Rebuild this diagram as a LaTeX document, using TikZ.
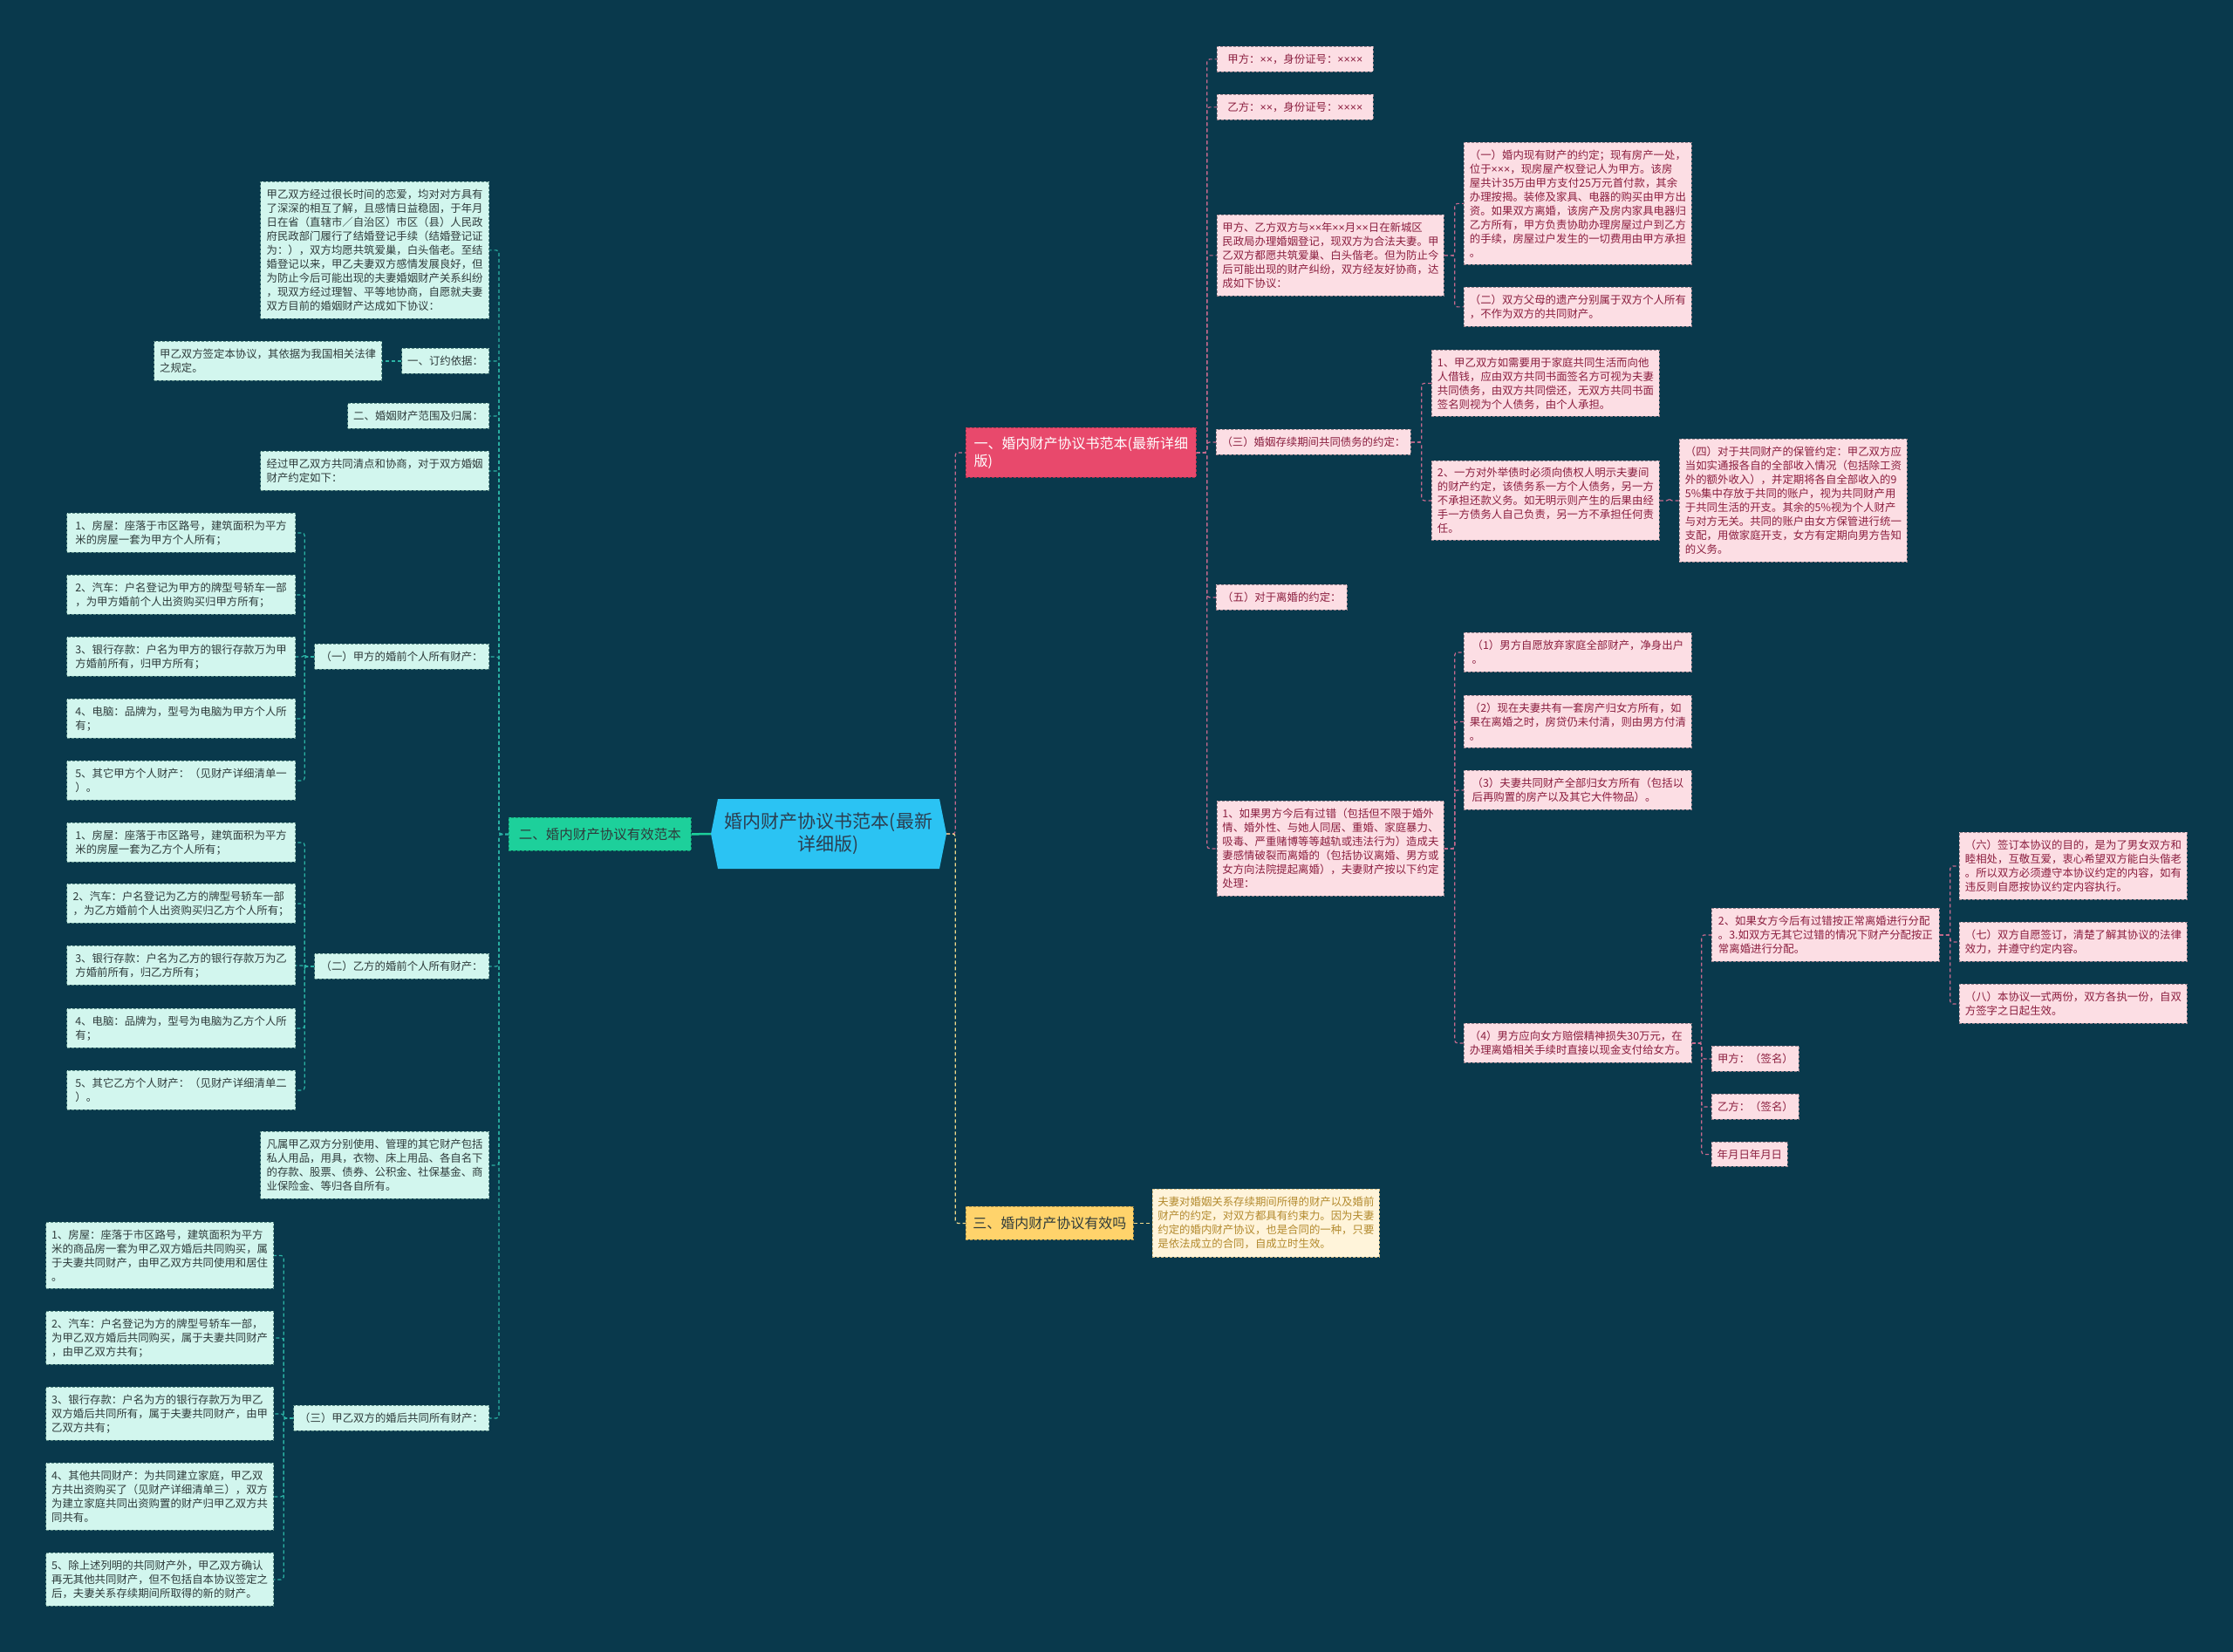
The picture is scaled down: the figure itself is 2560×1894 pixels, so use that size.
\documentclass[tikz,border=0pt]{standalone}
\usepackage{fontspec}
\setmainfont{Noto Sans CJK SC}
\newfontfamily\latinf{Liberation Sans}
\newcommand{\xx}{{\latinf ×}}
\usetikzlibrary{backgrounds}
\definecolor{bgc}{HTML}{09394C}
\definecolor{lfill}{HTML}{D2F6EE}
\definecolor{lbd}{HTML}{5E8E88}
\definecolor{ltxt}{HTML}{2E3B3B}
\definecolor{lcon}{HTML}{2BB3A5}
\definecolor{rfill}{HTML}{FCDEE4}
\definecolor{rbd}{HTML}{97808A}
\definecolor{rtxt}{HTML}{8B1E3F}
\definecolor{rcon}{HTML}{C86A8E}
\definecolor{cblue}{HTML}{2BC3F3}
\definecolor{ctxt}{HTML}{2C3E50}
\definecolor{b1fill}{HTML}{E8496C}
\definecolor{b2fill}{HTML}{1DD09B}
\definecolor{b3fill}{HTML}{FFD36B}
\definecolor{yfill}{HTML}{FFF4DA}
\definecolor{ytxt}{HTML}{B38A2E}
\definecolor{ycon}{HTML}{F2DA8A}
\newcommand{\fsS}{\fontsize{12.4}{16}\selectfont}
\newcommand{\fsB}{\fontsize{16}{20}\selectfont}
\newcommand{\fsR}{\fontsize{21}{26}\selectfont}
\tikzset{
  sz/.style 2 args={minimum width=#1pt, minimum height=#2pt},
  lbox/.style={draw=lbd, fill=lfill, text=ltxt, font=\fsS, align=left, inner xsep=6pt, inner ysep=4pt, line width=0.8pt, dash pattern=on 3pt off 2pt},
  rbox/.style={draw=rbd, fill=rfill, text=rtxt, font=\fsS, align=left, inner xsep=6pt, inner ysep=4pt, line width=0.8pt, dash pattern=on 3pt off 2pt},
  ybox/.style={draw=ytxt!60, fill=yfill, text=ytxt, font=\fsS, align=left, inner xsep=5pt, inner ysep=4pt, line width=0.8pt, dash pattern=on 3pt off 2pt},
  lconn/.style={draw=lcon, line width=1.2pt, dash pattern=on 4pt off 3pt, rounded corners=3pt},
  rconn/.style={draw=rcon, line width=1.2pt, dash pattern=on 4pt off 3pt, rounded corners=3pt},
  yconn/.style={draw=ycon, line width=1.2pt, dash pattern=on 4pt off 3pt, rounded corners=3pt},
}
\begin{document}
\begin{tikzpicture}[x=1pt,y=-1pt]
\useasboundingbox (0,0) rectangle (2560,1894);
\fill[bgc] (0,0) rectangle (2560,1894);

% root
\fill[cblue] (823,916) -- (1077,916) -- (1085,956) -- (1077,996) -- (823,996) -- (815,956) -- cycle;
\node[sz={270}{80}, inner sep=0pt, text=ctxt, font=\fsR, align=center] (root) at (950,956) {婚内财产协议书范本(最新\\详细版)};

% branches
\node[sz={264}{57}, anchor=north west, fill=b1fill, draw=b1fill!70!black, line width=0.8pt, dash pattern=on 3pt off 2pt, text=white, font=\fsB, align=left, inner sep=5pt] (B1) at (1107,490) {一、婚内财产协议书范本(最新详细\\版)};
\node[sz={209}{38}, anchor=north west, fill=b2fill, draw=b2fill!70!black, line width=0.8pt, dash pattern=on 3pt off 2pt, text=ltxt, font=\fontsize{15.5}{19}\selectfont, inner sep=4pt] (B2) at (583,937) {二、婚内财产协议有效范本};
\node[sz={192}{38}, anchor=north west, fill=b3fill, draw=b3fill!70!black, line width=0.8pt, dash pattern=on 3pt off 2pt, text=ltxt, font=\fsB, inner sep=4pt] (B3) at (1107,1383) {三、婚内财产协议有效吗};

\draw[draw=b2fill, line width=2.5pt] (root.west) -- (B2.east);
\draw[rconn] (root.east) -- ++(10,0) |- (B1.west);
\draw[yconn] (root.east) -- ++(10,0) |- (B3.west);

% branch 3 child
\node[ybox, sz={260}{78}, anchor=north west] (Y1) at (1321,1363) {夫妻对婚姻关系存续期间所得的财产以及婚前\\财产的约定，对双方都具有约束力。因为夫妻\\约定的婚内财产协议，也是合同的一种，只要\\是依法成立的合同，自成立时生效。};
\draw[yconn] (B3.east) -- (Y1.west);

% ---------- left side ----------
\node[lbox, sz={262}{157}, anchor=north east] (L1) at (561,208) {甲乙双方经过很长时间的恋爱，均对对方具有\\了深深的相互了解，且感情日益稳固，于年月\\日在省（直辖市／自治区）市区（县）人民政\\府民政部门履行了结婚登记手续（结婚登记证\\为：），双方均愿共筑爱巢，白头偕老。至结\\婚登记以来，甲乙夫妻双方感情发展良好，但\\为防止今后可能出现的夫妻婚姻财产关系纠纷\\，现双方经过理智、平等地协商，自愿就夫妻\\双方目前的婚姻财产达成如下协议：};
\node[lbox, sz={100}{29}, anchor=north east] (L2) at (561,399) {一、订约依据：};
\node[lbox, sz={261}{45}, anchor=north east] (L2c) at (438,391) {甲乙双方签定本协议，其依据为我国相关法律\\之规定。};
\node[lbox, sz={162}{29}, anchor=north east] (L3) at (561,462) {二、婚姻财产范围及归属：};
\node[lbox, sz={262}{45}, anchor=north east] (L4) at (561,517) {经过甲乙双方共同清点和协商，对于双方婚姻\\财产约定如下：};
\node[lbox, sz={200}{29}, anchor=north east] (G1) at (561,738) {（一）甲方的婚前个人所有财产：};
\node[lbox, sz={262}{45}, anchor=north east] (A1) at (339,588) {1、房屋：座落于市区路号，建筑面积为平方\\米的房屋一套为甲方个人所有；};
\node[lbox, sz={262}{45}, anchor=north east] (A2) at (339,659) {2、汽车：户名登记为甲方的牌型号轿车一部\\，为甲方婚前个人出资购买归甲方所有；};
\node[lbox, sz={262}{45}, anchor=north east] (A3) at (339,730) {3、银行存款：户名为甲方的银行存款万为甲\\方婚前所有，归甲方所有；};
\node[lbox, sz={262}{45}, anchor=north east] (A4) at (339,801) {4、电脑：品牌为，型号为电脑为甲方个人所\\有；};
\node[lbox, sz={262}{45}, anchor=north east] (A5) at (339,872) {5、其它甲方个人财产：（见财产详细清单一\\）。};
\node[lbox, sz={200}{29}, anchor=north east] (G2) at (561,1093) {（二）乙方的婚前个人所有财产：};
\node[lbox, sz={262}{45}, anchor=north east] (Bb1) at (339,943) {1、房屋：座落于市区路号，建筑面积为平方\\米的房屋一套为乙方个人所有；};
\node[lbox, sz={262}{45}, anchor=north east] (Bb2) at (339,1013) {2、汽车：户名登记为乙方的牌型号轿车一部\\，为乙方婚前个人出资购买归乙方个人所有；};
\node[lbox, sz={262}{45}, anchor=north east] (Bb3) at (339,1084) {3、银行存款：户名为乙方的银行存款万为乙\\方婚前所有，归乙方所有；};
\node[lbox, sz={262}{45}, anchor=north east] (Bb4) at (339,1156) {4、电脑：品牌为，型号为电脑为乙方个人所\\有；};
\node[lbox, sz={262}{45}, anchor=north east] (Bb5) at (339,1227) {5、其它乙方个人财产：（见财产详细清单二\\）。};
\node[lbox, sz={262}{77}, anchor=north east] (L5) at (561,1297) {凡属甲乙双方分别使用、管理的其它财产包括\\私人用品，用具，衣物、床上用品、各自名下\\的存款、股票、债券、公积金、社保基金、商\\业保险金、等归各自所有。};
\node[lbox, sz={224}{29}, anchor=north east] (G3) at (561,1611) {（三）甲乙双方的婚后共同所有财产：};
\node[lbox, sz={261}{76}, anchor=north east] (C1) at (314,1401) {1、房屋：座落于市区路号，建筑面积为平方\\米的商品房一套为甲乙双方婚后共同购买，属\\于夫妻共同财产，由甲乙双方共同使用和居住\\。};
\node[lbox, sz={261}{61}, anchor=north east] (C2) at (314,1503) {2、汽车：户名登记为方的牌型号轿车一部，\\为甲乙双方婚后共同购买，属于夫妻共同财产\\，由甲乙双方共有；};
\node[lbox, sz={261}{61}, anchor=north east] (C3) at (314,1590) {3、银行存款：户名为方的银行存款万为甲乙\\双方婚后共同所有，属于夫妻共同财产，由甲\\乙双方共有；};
\node[lbox, sz={261}{77}, anchor=north east] (C4) at (314,1677) {4、其他共同财产：为共同建立家庭，甲乙双\\方共出资购买了（见财产详细清单三），双方\\为建立家庭共同出资购置的财产归甲乙双方共\\同共有。};
\node[lbox, sz={261}{61}, anchor=north east] (C5) at (314,1780) {5、除上述列明的共同财产外，甲乙双方确认\\再无其他共同财产，但不包括自本协议签定之\\后，夫妻关系存续期间所取得的新的财产。};

\foreach \n in {L1,L2,L3,L4,G1,G2,L5,G3}
  \draw[lconn] (B2.west) -- ++(-11,0) |- (\n.east);
\draw[lconn] (L2.west) -- (L2c.east);
\foreach \n in {A1,A2,A3,A4,A5}
  \draw[lconn] (G1.west) -- ++(-11,0) |- (\n.east);
\foreach \n in {Bb1,Bb2,Bb3,Bb4,Bb5}
  \draw[lconn] (G2.west) -- ++(-11,0) |- (\n.east);
\foreach \n in {C1,C2,C3,C4,C5}
  \draw[lconn] (G3.west) -- ++(-11,0) |- (\n.east);

% ---------- right side ----------
\node[rbox, sz={179}{29}, anchor=north west] (R1) at (1395,53) {甲方：\xx{}\xx{}，身份证号：\xx{}\xx{}\xx{}\xx{}};
\node[rbox, sz={179}{29}, anchor=north west] (R2) at (1395,108) {乙方：\xx{}\xx{}，身份证号：\xx{}\xx{}\xx{}\xx{}};
\node[rbox, sz={260}{93}, anchor=north west] (R3) at (1395,246) {甲方、乙方双方与\xx{}\xx{}年\xx{}\xx{}月\xx{}\xx{}日在新城区\\民政局办理婚姻登记，现双方为合法夫妻。甲\\乙双方都愿共筑爱巢、白头偕老。但为防止今\\后可能出现的财产纠纷，双方经友好协商，达\\成如下协议：};
\node[rbox, sz={261}{140}, anchor=north west] (R3a) at (1678,163) {（一）婚内现有财产的约定；现有房产一处，\\位于\xx{}\xx{}\xx{}，现房屋产权登记人为甲方。该房\\屋共计35万由甲方支付25万元首付款，其余\\办理按揭。装修及家具、电器的购买由甲方出\\资。如果双方离婚，该房产及房内家具电器归\\乙方所有，甲方负责协助办理房屋过户到乙方\\的手续，房屋过户发生的一切费用由甲方承担\\。};
\node[rbox, sz={261}{45}, anchor=north west] (R3b) at (1678,329) {（二）双方父母的遗产分别属于双方个人所有\\，不作为双方的共同财产。};
\node[rbox, sz={223}{29}, anchor=north west] (R4) at (1394,492) {（三）婚姻存续期间共同债务的约定：};
\node[rbox, sz={261}{76}, anchor=north west] (R4a) at (1641,401) {1、甲乙双方如需要用于家庭共同生活而向他\\人借钱，应由双方共同书面签名方可视为夫妻\\共同债务，由双方共同偿还，无双方共同书面\\签名则视为个人债务，由个人承担。};
\node[rbox, sz={261}{91}, anchor=north west] (R4b) at (1641,528) {2、一方对外举债时必须向债权人明示夫妻间\\的财产约定，该债务系一方个人债务，另一方\\不承担还款义务。如无明示则产生的后果由经\\手一方债务人自己负责，另一方不承担任何责\\任。};
\node[rbox, sz={261}{141}, anchor=north west] (R4c) at (1925,503) {（四）对于共同财产的保管约定：甲乙双方应\\当如实通报各自的全部收入情况（包括除工资\\外的额外收入），并定期将各自全部收入的9\\5\%集中存放于共同的账户，视为共同财产用\\于共同生活的开支。其余的5\%视为个人财产\\与对方无关。共同的账户由女方保管进行统一\\支配，用做家庭开支，女方有定期向男方告知\\的义务。};
\node[rbox, sz={150}{29}, anchor=north west] (R5) at (1394,670) {（五）对于离婚的约定：};
\node[rbox, sz={260}{109}, anchor=north west] (R6) at (1395,918) {1、如果男方今后有过错（包括但不限于婚外\\情、婚外性、与她人同居、重婚、家庭暴力、\\吸毒、严重赌博等等越轨或违法行为）造成夫\\妻感情破裂而离婚的（包括协议离婚、男方或\\女方向法院提起离婚），夫妻财产按以下约定\\处理：};
\node[rbox, sz={261}{45}, anchor=north west] (R6a) at (1678,725) {（1）男方自愿放弃家庭全部财产，净身出户\\。};
\node[rbox, sz={261}{60}, anchor=north west] (R6b) at (1678,797) {（2）现在夫妻共有一套房产归女方所有，如\\果在离婚之时，房贷仍未付清，则由男方付清\\。};
\node[rbox, sz={261}{45}, anchor=north west] (R6c) at (1678,883) {（3）夫妻共同财产全部归女方所有（包括以\\后再购置的房产以及其它大件物品）。};
\node[rbox, sz={261}{45}, anchor=north west] (R6d) at (1678,1173) {（4）男方应向女方赔偿精神损失30万元，在\\办理离婚相关手续时直接以现金支付给女方。};
\node[rbox, sz={261}{61}, anchor=north west] (R6e) at (1962,1041) {2、如果女方今后有过错按正常离婚进行分配\\。3.如双方无其它过错的情况下财产分配按正\\常离婚进行分配。};
\node[rbox, sz={100}{29}, anchor=north west] (R6f) at (1962,1199) {甲方：（签名）};
\node[rbox, sz={100}{29}, anchor=north west] (R6g) at (1962,1254) {乙方：（签名）};
\node[rbox, sz={87}{28}, anchor=north west] (R6h) at (1962,1309) {年月日年月日};
\node[rbox, sz={261}{77}, anchor=north west] (S6) at (2246,954) {（六）签订本协议的目的，是为了男女双方和\\睦相处，互敬互爱，衷心希望双方能白头偕老\\。所以双方必须遵守本协议约定的内容，如有\\违反则自愿按协议约定内容执行。};
\node[rbox, sz={261}{45}, anchor=north west] (S7) at (2246,1057) {（七）双方自愿签订，清楚了解其协议的法律\\效力，并遵守约定内容。};
\node[rbox, sz={261}{45}, anchor=north west] (S8) at (2246,1128) {（八）本协议一式两份，双方各执一份，自双\\方签字之日起生效。};

\foreach \n in {R1,R2,R3,R4,R5,R6}
  \draw[rconn] (B1.east) -- ++(12,0) |- (\n.west);
\foreach \n in {R3a,R3b}
  \draw[rconn] (R3.east) -- ++(12,0) |- (\n.west);
\foreach \n in {R4a,R4b}
  \draw[rconn] (R4.east) -- ++(12,0) |- (\n.west);
\draw[rconn] (R4b.east) -- ++(11,0) |- (R4c.west);
\foreach \n in {R6a,R6b,R6c,R6d}
  \draw[rconn] (R6.east) -- ++(12,0) |- (\n.west);
\foreach \n in {R6e,R6f,R6g,R6h}
  \draw[rconn] (R6d.east) -- ++(11,0) |- (\n.west);
\foreach \n in {S6,S7,S8}
  \draw[rconn] (R6e.east) -- ++(12,0) |- (\n.west);
\end{tikzpicture}
\end{document}
